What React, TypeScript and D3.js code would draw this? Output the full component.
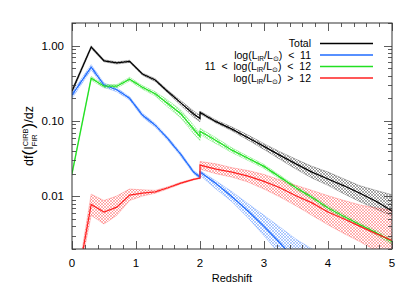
import React, { useEffect, useRef } from 'react';
import * as d3 from 'd3';

// redshift grid (2.0 twice: the curves jump there)
const redshift = [0, 0.3, 0.5, 0.7, 0.9, 1.1, 1.3, 1.5, 1.7, 1.9, 2.0, 2.0, 2.25, 2.5, 2.75, 3.0, 3.25, 3.5, 3.75, 4.0, 4.25, 4.5, 4.75, 5.0];

const totalMid = [0.25, 0.96, 0.63, 0.59, 0.62, 0.42, 0.35, 0.245, 0.174, 0.124, 0.108, 0.13, 0.098, 0.078, 0.060, 0.046, 0.035, 0.027, 0.021, 0.017, 0.0138, 0.011, 0.0086, 0.0064];
const totalLo = [0.235, 0.92, 0.61, 0.57, 0.60, 0.405, 0.335, 0.235, 0.162, 0.112, 0.098, 0.125, 0.094, 0.074, 0.056, 0.042, 0.031, 0.023, 0.0175, 0.014, 0.0108, 0.0085, 0.0068, 0.0055];
const totalHi = [0.265, 1.0, 0.65, 0.61, 0.64, 0.435, 0.365, 0.255, 0.186, 0.136, 0.118, 0.135, 0.103, 0.083, 0.065, 0.050, 0.039, 0.031, 0.025, 0.021, 0.017, 0.0138, 0.012, 0.0105];

const lirgMid = [0.22, 0.52, 0.30, 0.26, 0.20, 0.12, 0.088, 0.058, 0.036, 0.021, 0.018, 0.021, 0.0148, 0.0099, 0.0064, 0.0040, 0.0024, 0.0014, 0.0008, 0.0005, 0.0003, 0.0002, 0.00012, 0.00008];
const lirgLo = [0.20, 0.48, 0.28, 0.245, 0.19, 0.113, 0.083, 0.055, 0.034, 0.020, 0.017, 0.019, 0.0125, 0.0085, 0.0052, 0.0030, 0.0017, 0.0009, 0.0005, 0.0003, 0.0002, 0.00012, 0.00008, 0.00005];
const lirgHi = [0.24, 0.56, 0.32, 0.275, 0.21, 0.127, 0.093, 0.061, 0.038, 0.022, 0.019, 0.022, 0.016, 0.0115, 0.0080, 0.0056, 0.0039, 0.0027, 0.0020, 0.0014, 0.001, 0.0007, 0.0005, 0.0003];

const midMid = [0.020, 0.37, 0.29, 0.29, 0.36, 0.28, 0.23, 0.17, 0.125, 0.078, 0.062, 0.073, 0.055, 0.041, 0.032, 0.025, 0.018, 0.013, 0.0097, 0.0070, 0.0054, 0.0042, 0.0033, 0.0025];
const midLo = [0.019, 0.35, 0.275, 0.275, 0.34, 0.265, 0.215, 0.152, 0.110, 0.068, 0.055, 0.066, 0.050, 0.038, 0.030, 0.0235, 0.017, 0.0123, 0.0092, 0.0066, 0.0051, 0.0040, 0.0031, 0.0023];
const midHi = [0.021, 0.39, 0.305, 0.305, 0.38, 0.295, 0.245, 0.188, 0.140, 0.088, 0.069, 0.080, 0.060, 0.044, 0.034, 0.0265, 0.019, 0.0137, 0.0102, 0.0074, 0.0057, 0.0044, 0.0035, 0.0027];

const hiMid = [0.0003, 0.0078, 0.0062, 0.0072, 0.0104, 0.011, 0.0115, 0.013, 0.015, 0.0168, 0.0175, 0.026, 0.023, 0.021, 0.0185, 0.0158, 0.013, 0.0102, 0.0082, 0.0062, 0.0050, 0.0040, 0.0032, 0.0026];
const hiLo = [0.0003, 0.0056, 0.0043, 0.0056, 0.0088, 0.0101, 0.011, 0.0126, 0.0146, 0.0165, 0.0172, 0.023, 0.020, 0.018, 0.0155, 0.0125, 0.0098, 0.0075, 0.0056, 0.0042, 0.0032, 0.0025, 0.0019, 0.0015];
const hiHi = [0.0003, 0.0107, 0.0088, 0.0101, 0.0125, 0.0122, 0.012, 0.0134, 0.0154, 0.0171, 0.0178, 0.029, 0.027, 0.024, 0.022, 0.0195, 0.0165, 0.014, 0.012, 0.0102, 0.0088, 0.0077, 0.0070, 0.0066];

const xTicks = [0, 1, 2, 3, 4, 5];
const yTicks = [0.01, 0.1, 1];
const yTickLabels = ['0.01', '0.10', '1.00'];

const series = [
  { key: 'total', color: '#000000', mid: totalMid, lo: totalLo, hi: totalHi },
  { key: 'lirg', color: '#1f6bff', mid: lirgMid, lo: lirgLo, hi: lirgHi },
  { key: 'mid', color: '#22e022', mid: midMid, lo: midLo, hi: midHi },
  { key: 'ulirg', color: '#ff2020', mid: hiMid, lo: hiLo, hi: hiHi },
];

const font = '"Liberation Sans", Arial, sans-serif';

const App = () => {
  const svgRef = useRef<SVGSVGElement>(null);

  useEffect(() => {
    const svg = d3.select(svgRef.current);
    svg.selectAll('*').remove();

    const left = 72, right = 392, top = 23, bottom = 249;
    const x = d3.scaleLinear().domain([0, 5]).range([left, right]);
    const y = d3.scaleLog().domain([0.002, 2]).range([bottom, top]);

    const defs = svg.append('defs');
    defs.append('clipPath').attr('id', 'plotclip')
      .append('rect').attr('x', left).attr('y', top)
      .attr('width', right - left).attr('height', bottom - top);

    series.forEach(s => {
      const p = defs.append('pattern')
        .attr('id', 'hatch-' + s.key)
        .attr('patternUnits', 'userSpaceOnUse')
        .attr('width', 3).attr('height', 3);
      p.append('path').attr('d', 'M-1,1 L1,-1 M0,3 L3,0 M2,4 L4,2')
        .attr('stroke', s.color).attr('stroke-width', 0.5).attr('opacity', 0.65);
      p.append('path').attr('d', 'M-1,2 L1,4 M0,0 L3,3 M2,-1 L4,1')
        .attr('stroke', s.color).attr('stroke-width', 0.5).attr('opacity', 0.65);
    });

    const plot = svg.append('g').attr('clip-path', 'url(#plotclip)');

    series.forEach(s => {
      const area = d3.area<number>()
        .x((_, i) => x(redshift[i]))
        .y0((_, i) => y(s.lo[i]))
        .y1((_, i) => y(s.hi[i]));
      plot.append('path')
        .attr('d', area(s.mid))
        .attr('fill', `url(#hatch-${s.key})`)
        .attr('stroke', s.color)
        .attr('stroke-width', 0.5)
        .attr('stroke-opacity', 0.5);
    });

    series.forEach(s => {
      const line = d3.line<number>()
        .x((_, i) => x(redshift[i]))
        .y(d => y(d));
      plot.append('path')
        .attr('d', line(s.mid))
        .attr('fill', 'none')
        .attr('stroke', s.color)
        .attr('stroke-width', 1.25);
    });

    // frame
    const axisColor = '#333';
    svg.append('rect')
      .attr('x', left).attr('y', top)
      .attr('width', right - left).attr('height', bottom - top)
      .attr('fill', 'none').attr('stroke', axisColor).attr('stroke-width', 1);

    const ticks = svg.append('g').attr('stroke', axisColor).attr('stroke-width', 0.8);

    // x ticks, bottom and top
    d3.range(0, 5.001, 0.2).forEach(v => {
      const major = Math.abs(v - Math.round(v)) < 1e-6;
      const len = major ? 8 : 4;
      const px = Math.round(x(v)) + 0.5;
      ticks.append('line').attr('x1', px).attr('x2', px).attr('y1', bottom).attr('y2', bottom - len);
      ticks.append('line').attr('x1', px).attr('x2', px).attr('y1', top).attr('y2', top + len);
    });

    // y ticks, left and right
    const minor: number[] = [];
    [0.001, 0.01, 0.1, 1].forEach(dec => {
      for (let k = 2; k <= 9; k++) {
        const v = dec * k;
        if (v >= 0.002 && v <= 2) minor.push(v);
      }
    });
    minor.forEach(v => {
      const py = Math.round(y(v)) + 0.5;
      ticks.append('line').attr('x1', left).attr('x2', left + 4).attr('y1', py).attr('y2', py);
      ticks.append('line').attr('x1', right).attr('x2', right - 4).attr('y1', py).attr('y2', py);
    });
    yTicks.forEach(v => {
      const py = Math.round(y(v)) + 0.5;
      ticks.append('line').attr('x1', left).attr('x2', left + 8).attr('y1', py).attr('y2', py);
      ticks.append('line').attr('x1', right).attr('x2', right - 8).attr('y1', py).attr('y2', py);
    });

    // tick labels
    svg.append('g').selectAll('text').data(xTicks).enter().append('text')
      .attr('x', d => x(d)).attr('y', 267)
      .attr('text-anchor', 'middle')
      .attr('font-family', font).attr('font-size', 11.5)
      .text(d => String(d));

    svg.append('g').selectAll('text').data(yTicks).enter().append('text')
      .attr('x', 64).attr('y', d => y(d) + 4)
      .attr('text-anchor', 'end')
      .attr('font-family', font).attr('font-size', 11.5)
      .text((_, i) => yTickLabels[i]);

    svg.append('text')
      .attr('x', (left + right) / 2).attr('y', 282)
      .attr('text-anchor', 'middle')
      .attr('font-family', font).attr('font-size', 11)
      .text('Redshift');

    // y label
    const yl = svg.append('text')
      .attr('transform', `translate(33,${(top + bottom) / 2}) rotate(-90)`)
      .attr('text-anchor', 'middle')
      .attr('font-family', font).attr('font-size', 12.5);
    yl.append('tspan').text('df');
    yl.append('tspan').attr('font-size', 17).attr('dy', 1).text('(');
    yl.append('tspan').attr('dy', -1).text('I');
    yl.append('tspan').attr('font-size', 7.5).attr('dy', -5.5).text('CIRB');
    yl.append('tspan').attr('font-size', 7.5).attr('dx', -17.9).attr('dy', 9).text('FIR');
    yl.append('tspan').attr('font-size', 17).attr('dx', 5.8).attr('dy', -2.5).text(')');
    yl.append('tspan').attr('dy', -1).text('/dz');

    // legend
    const legendRows = [
      { pre: '', suffix: '' },
      { pre: '', suffix: '  <  11' },
      { pre: '11  <  ', suffix: '  <  12' },
      { pre: '', suffix: '  >  12' },
    ];
    legendRows.forEach((r, i) => {
      const ly = 47 + i * 11.5;
      const t = svg.append('text')
        .attr('x', 311).attr('y', ly)
        .attr('text-anchor', 'end')
        .attr('font-family', font).attr('font-size', 10.5)
        .style('white-space', 'pre');
      if (i === 0) {
        t.text('Total');
      } else {
        t.append('tspan').text(r.pre + 'log(L');
        t.append('tspan').attr('font-size', 6.5).attr('dy', 2).text('IR');
        t.append('tspan').attr('dy', -2).text('/L');
        t.append('tspan').attr('font-size', 7).attr('dy', 2).text('⊙');
        t.append('tspan').attr('dy', -2).text(')' + r.suffix);
      }
      svg.append('line')
        .attr('x1', 320).attr('x2', 373)
        .attr('y1', ly - 3.5).attr('y2', ly - 3.5)
        .attr('stroke', series[i].color).attr('stroke-width', 1.4);
    });
  }, []);

  return (
    <svg ref={svgRef} width={414} height={296}
      style={{ position: 'absolute', left: 0, top: 0, background: '#fff' }} />
  );
};

export default App;
